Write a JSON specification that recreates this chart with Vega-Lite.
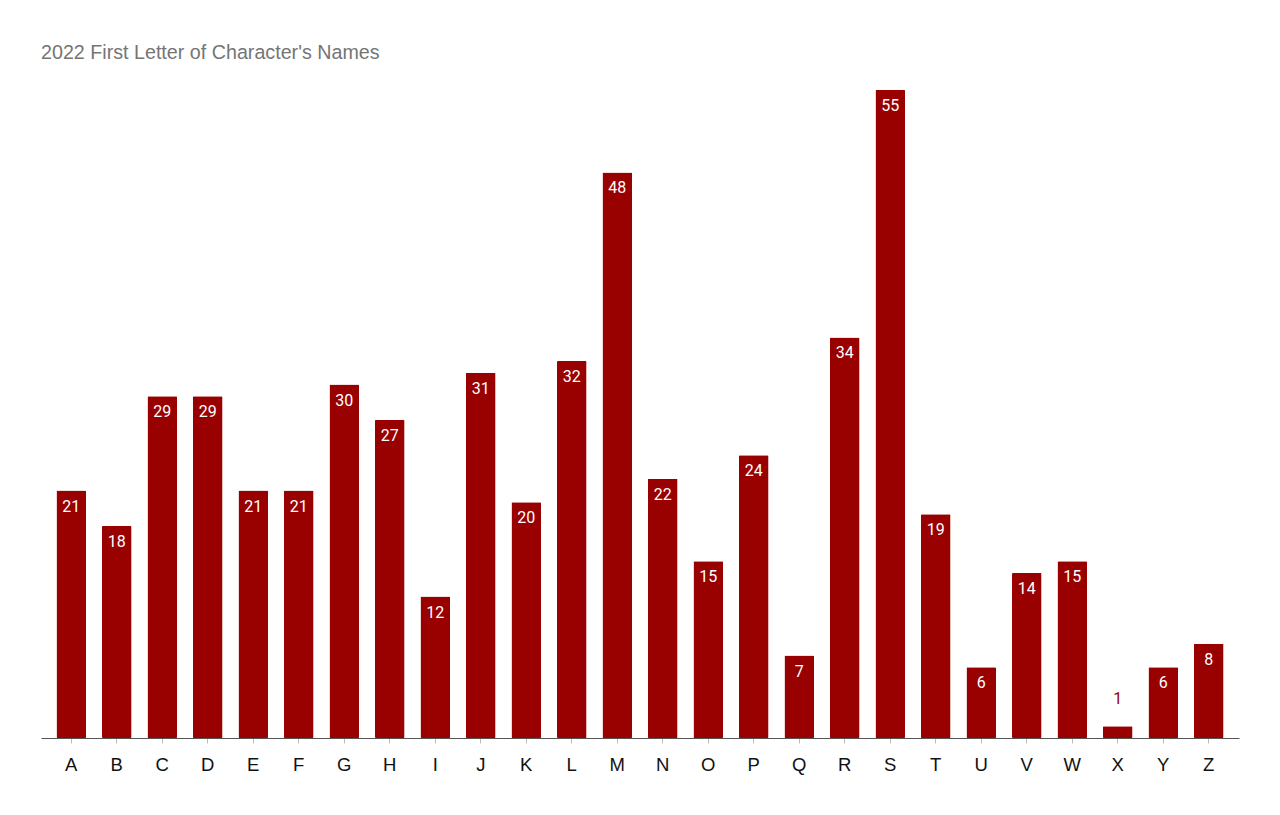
{
  "$schema": "https://vega.github.io/schema/vega-lite/v6.json",
  "autosize": "none",
  "width": 1198,
  "height": 648,
  "padding": {"left": 41, "top": 90, "right": 41, "bottom": 77},
  "background": "white",
  "title": {
    "text": "2022 First Letter of Character's Names",
    "anchor": "start",
    "frame": "group",
    "font": "Liberation Sans, Arial",
    "fontSize": 19.7,
    "fontWeight": "normal",
    "color": "#757575",
    "offset": 27
  },
  "config": {"view": {"stroke": null}},
  "data": {
    "values": [
      {"letter": "A", "count": 21}, {"letter": "B", "count": 18}, {"letter": "C", "count": 29},
      {"letter": "D", "count": 29}, {"letter": "E", "count": 21}, {"letter": "F", "count": 21},
      {"letter": "G", "count": 30}, {"letter": "H", "count": 27}, {"letter": "I", "count": 12},
      {"letter": "J", "count": 31}, {"letter": "K", "count": 20}, {"letter": "L", "count": 32},
      {"letter": "M", "count": 48}, {"letter": "N", "count": 22}, {"letter": "O", "count": 15},
      {"letter": "P", "count": 24}, {"letter": "Q", "count": 7}, {"letter": "R", "count": 34},
      {"letter": "S", "count": 55}, {"letter": "T", "count": 19}, {"letter": "U", "count": 6},
      {"letter": "V", "count": 14}, {"letter": "W", "count": 15}, {"letter": "X", "count": 1},
      {"letter": "Y", "count": 6}, {"letter": "Z", "count": 8}
    ]
  },
  "encoding": {
    "x": {
      "field": "letter", "type": "nominal", "sort": null,
      "scale": {"paddingInner": 0.35, "paddingOuter": 0.34},
      "axis": {
        "title": null, "labelAngle": 0, "labelFont": "Liberation Sans, Arial", "labelFontSize": 18.5,
        "labelColor": "#111111", "labelPadding": 12, "tickSize": 5, "tickColor": "#bbbbbb",
        "domainColor": "#555555", "domainWidth": 1
      }
    },
    "y": {
      "field": "count", "type": "quantitative",
      "scale": {"domain": [0, 55], "nice": false},
      "axis": null
    }
  },
  "layer": [
    {"mark": {"type": "bar", "color": "#990000", "cornerRadius": 1}},
    {
      "transform": [{"filter": "datum.count > 1"}],
      "mark": {"type": "text", "baseline": "middle", "dy": 16, "font": "Roboto", "fontSize": 16, "color": "white"},
      "encoding": {"text": {"field": "count", "type": "quantitative"}}
    },
    {
      "transform": [{"filter": "datum.count <= 1"}],
      "mark": {"type": "text", "baseline": "middle", "dy": -27, "font": "Roboto", "fontSize": 16, "color": "#990000"},
      "encoding": {"text": {"field": "count", "type": "quantitative"}}
    }
  ]
}
